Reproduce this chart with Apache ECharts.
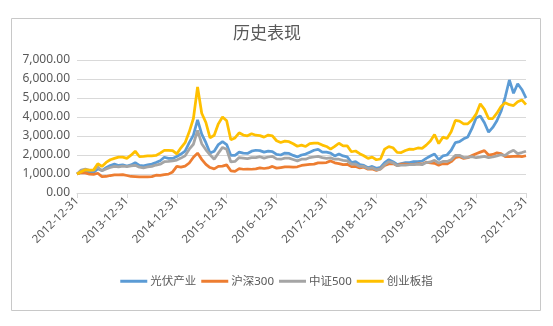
<!DOCTYPE html>
<html><head><meta charset="utf-8">
<script src="https://cdn.jsdelivr.net/npm/echarts@6/dist/echarts.min.js"></script>
<style>html,body{margin:0;padding:0;background:#fff}#c{width:553px;height:326px}</style>
</head><body><div id="c"></div>
<script>
// Month-end dates from 2012-12-31 to 2021-12-31 (category labels)
const dates = [];
for (let i = 0; i <= 108; i++) {
  const d = new Date(Date.UTC(2012, 12 + i, 0));
  dates.push(d.toISOString().slice(0, 10));
}
const seriesNames = ['光伏产业', '沪深300', '中证500', '创业板指'];
const yTicks = [0, 1000, 2000, 3000, 4000, 5000, 6000, 7000];

const pv = [1000,
  1100,1150,1100,1080,1280,1180,1330,1450,1520,1450,1480,1420,
  1480,1600,1450,1430,1480,1520,1600,1700,1880,1820,1820,1920,
  2050,2200,2650,3050,3850,3100,2650,2100,2200,2550,2700,2550,
  1980,1980,2150,2100,2080,2200,2250,2230,2150,2200,2180,2030,
  2000,2100,2080,1980,1900,2000,2050,2150,2250,2300,2150,2150,
  2100,1950,2050,1950,1900,1600,1650,1500,1450,1330,1400,1300,
  1350,1600,1750,1650,1500,1550,1600,1600,1650,1650,1680,1820,
  1950,2050,1750,1950,2000,2250,2650,2700,2850,2950,3400,3950,
  4050,3700,3200,3450,3800,4300,5050,5950,5250,5750,5450,5000];

const hs300 = [1000,
  1065,1060,990,980,1040,860,870,920,955,955,970,920,
  870,865,850,855,855,860,935,930,970,995,1110,1400,
  1360,1415,1580,1880,2100,1770,1510,1340,1270,1400,1415,1480,
  1170,1140,1280,1250,1260,1250,1270,1320,1290,1320,1400,1310,
  1340,1370,1370,1360,1380,1450,1480,1510,1520,1585,1585,1600,
  1690,1590,1550,1490,1510,1390,1395,1320,1360,1250,1260,1190,
  1270,1450,1530,1550,1440,1520,1520,1510,1510,1540,1520,1625,
  1585,1560,1460,1550,1530,1650,1860,1910,1820,1860,1970,2065,
  2150,2230,2000,2030,2110,2070,1910,1910,1930,1940,1910,1960];

const zz500 = [1000,
  1210,1254,1195,1181,1370,1166,1268,1341,1399,1370,1414,1385,
  1429,1458,1356,1327,1370,1399,1472,1516,1647,1662,1691,1735,
  1837,1953,2303,2566,3300,2595,2274,2012,1778,2099,2400,2300,
  1633,1662,1866,1837,1808,1866,1866,1910,1837,1895,1924,1793,
  1778,1837,1837,1764,1691,1778,1778,1866,1895,1924,1866,1822,
  1851,1778,1778,1720,1691,1516,1516,1399,1399,1283,1327,1216,
  1254,1487,1647,1589,1443,1472,1472,1487,1496,1516,1487,1603,
  1633,1720,1574,1662,1662,1749,1983,1983,1866,1880,1910,1857,
  1889,1924,1866,1895,1953,2012,1983,2150,2250,2070,2128,2200];

const cyb = [1000,
  1120,1218,1200,1218,1540,1400,1610,1750,1820,1890,1890,1826,
  1990,2200,1920,1930,1950,1960,1975,2100,2240,2240,2230,2060,
  2380,2650,3220,3920,5580,4200,3710,2900,3040,3640,4000,3800,
  2800,2900,3170,3050,3010,3120,3040,3020,2940,3050,3010,2750,
  2660,2730,2700,2590,2460,2520,2450,2600,2630,2620,2520,2450,
  2310,2450,2620,2480,2480,2170,2210,2070,1960,1820,1890,1750,
  1790,2310,2440,2380,2140,2130,2240,2310,2300,2370,2350,2520,
  2740,3080,2600,2940,2870,3220,3820,3780,3640,3640,3840,4150,
  4700,4400,3920,3920,4200,4550,4750,4650,4600,4800,4900,4650];

const colors = ['#5B9BD5', '#ED7D31', '#A5A5A5', '#FFC000'];
const font = "'Noto Sans', 'Noto Sans CJK SC', sans-serif";
const txt = '#595959';

function fmt(v) {
  const s = v.toFixed(2);
  const [a, b] = s.split('.');
  return a.replace(/\B(?=(\d{3})+(?!\d))/g, ',') + '.' + b;
}

const chart = echarts.init(document.getElementById('c'), null, {renderer: 'canvas'});
const dataSets = [pv, hs300, zz500, cyb];
chart.setOption({
  backgroundColor: '#fff',
  animation: false,
  color: colors,
  textStyle: {fontFamily: font},
  graphic: [{
    type: 'rect', silent: true, z: -1,
    shape: {x: 11.5, y: 18.5, width: 529, height: 292},
    style: {fill: 'none', stroke: '#c8c8c8', lineWidth: 1}
  }],
  title: {
    text: '历史表现', left: 228, top: 21,
    textStyle: {fontFamily: font, fontSize: 17, fontWeight: 'normal', color: txt}
  },
  legend: {
    data: seriesNames, bottom: 34, left: 'center',
    icon: 'rect', itemWidth: 27, itemHeight: 3, itemGap: 5,
    textStyle: {fontFamily: font, fontSize: 11.5, color: txt, padding: [0, 0, 0, -2]}
  },
  grid: {left: 77, right: 27, top: 60, bottom: 133, containLabel: false},
  xAxis: {
    type: 'category', data: dates, boundaryGap: false,
    axisLine: {lineStyle: {color: '#d9d9d9', width: 1}},
    axisTick: {show: true, interval: 11, length: 5, lineStyle: {color: '#d9d9d9'}},
    axisLabel: {interval: 11, rotate: 45, margin: 6, fontSize: 11.5, color: txt, fontFamily: font},
    splitLine: {show: false}
  },
  yAxis: {
    type: 'value', min: yTicks[0], max: yTicks[yTicks.length - 1], interval: 1000,
    axisLine: {show: false}, axisTick: {show: false},
    axisLabel: {formatter: fmt, fontSize: 12, color: txt, margin: 7, fontFamily: font},
    splitLine: {lineStyle: {color: '#d9d9d9', width: 1}}
  },
  series: seriesNames.map((n, i) => ({
    name: n, type: 'line', data: dataSets[i], showSymbol: false, symbol: 'none',
    lineStyle: {width: 2.75, color: colors[i]}, z: 2 + i
  }))
});
</script></body></html>
